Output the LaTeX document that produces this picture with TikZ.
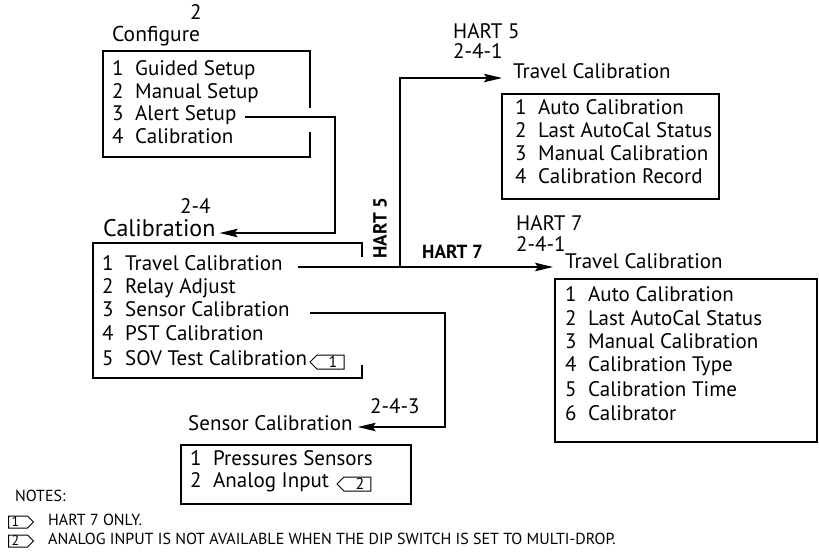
\documentclass[tikz,border=0pt]{standalone}
\usepackage{fontspec}
\setmainfont{PT Sans}
\newfontfamily\notefont{PT Sans}
\usetikzlibrary{arrows.meta,shapes.symbols,calc}
\newcommand\itm[2]{\makebox[23pt][l]{#1}#2}
\begin{document}
\begin{tikzpicture}[x=1pt,y=-1pt,
  txt/.style={anchor=west,inner sep=0pt,text height=0.7em,text depth=0pt,font=\fontsize{21}{24}\selectfont},
  bigtxt/.style={txt,font=\fontsize{24}{27}\selectfont},
  boldtxt/.style={txt,font=\fontsize{19}{22}\selectfont\bfseries},
  notetxt/.style={txt,font=\notefont\fontsize{16}{18}\selectfont},
  box/.style={line width=1.25pt},
  conn/.style={line width=1.25pt},
  arr/.style={conn,-{Stealth[length=18pt,width=8.5pt,inset=3pt]}},
  flagw/.style={draw,line width=1pt,signal,signal to=west,inner sep=0pt,minimum height=14pt,minimum width=34pt,font=\fontsize{16}{16}\selectfont,anchor=west},
  flage/.style={draw,line width=1pt,signal,signal to=east,inner sep=0pt,minimum height=12pt,minimum width=25pt,font=\fontsize{14}{14}\selectfont,anchor=west},
]
\useasboundingbox (0,0) rectangle (819,555);

% Configure
\node[txt] (cfgnum) at (190,16) {2};
\node[txt,font=\fontsize{21.5}{24}\selectfont] (cfgtitle) at (112,38) {Configure};
\draw[box] (310,108) -- (310,51) -- (103,51) -- (103,157) -- (310,157) -- (310,132);
\node[txt] (cfg1) at (112,72) {\itm{1}{Guided Setup}};
\node[txt] (cfg2) at (112,95) {\itm{2}{Manual Setup}};
\node[txt] (cfg3) at (112,117) {\itm{3}{Alert Setup}};
\node[txt] (cfg4) at (112,140) {\itm{4}{Calibration}};

% Calibration
\node[txt] (calnum) at (180,210) {2-4};
\node[bigtxt] (caltitle) at (103,233) {Calibration};
\draw[box] (362,257) -- (362,243) -- (93,243) -- (93,378) -- (362,378) -- (362,365);
\node[txt] (cal1) at (102,267) {\itm{1}{Travel Calibration}};
\node[txt] (cal2) at (102,290) {\itm{2}{Relay Adjust}};
\node[txt] (cal3) at (102,313) {\itm{3}{Sensor Calibration}};
\node[txt] (cal4) at (102,337) {\itm{4}{PST Calibration}};
\node[txt] (cal5) at (102,362) {\itm{5}{SOV Test Calibration}};
\node[flagw] (flag1) at ([xshift=2pt]cal5.east) {\hspace*{5pt}1};

% HART 5 Travel Calibration
\node[txt] (h5hart) at (453,35) {HART 5};
\node[txt] (h5num) at (453,55) {2-4-1};
\node[txt] (h5title) at (513,75) {Travel Calibration};
\draw[box] (502,94) rectangle (719,199);
\node[txt] (h51) at (515,111) {\itm{1}{Auto Calibration}};
\node[txt] (h52) at (515,134) {\itm{2}{Last AutoCal Status}};
\node[txt] (h53) at (515,157) {\itm{3}{Manual Calibration}};
\node[txt] (h54) at (515,180) {\itm{4}{Calibration Record}};

% HART 7 Travel Calibration
\node[txt] (h7hart) at (516,227) {HART 7};
\node[txt] (h7num) at (516,248) {2-4-1};
\node[txt] (h7title) at (565,265) {Travel Calibration};
\draw[box] (555,279) rectangle (817,442);
\node[txt] (h71) at (565,298) {\itm{1}{Auto Calibration}};
\node[txt] (h72) at (565,322) {\itm{2}{Last AutoCal Status}};
\node[txt] (h73) at (565,345) {\itm{3}{Manual Calibration}};
\node[txt] (h74) at (565,368) {\itm{4}{Calibration Type}};
\node[txt] (h75) at (565,393) {\itm{5}{Calibration Time}};
\node[txt] (h76) at (565,417) {\itm{6}{Calibrator}};

% Sensor Calibration
\node[txt] (sensnum) at (370,410) {2-4-3};
\node[txt] (senstitle) at (188,427) {Sensor Calibration};
\draw[box] (181,445) rectangle (411,504);
\node[txt] (sens1) at (190,462) {\itm{1}{Pressures Sensors}};
\node[txt] (sens2) at (190,484) {\itm{2}{Analog Input}};
\node[flagw] (flag2) at ([xshift=7pt]sens2.east) {\hspace*{5pt}2};

% branch labels
\node[boldtxt,rotate=90,anchor=center] (lblh5) at (383,228) {HART 5};
\node[boldtxt] (lblh7) at (422,255) {HART 7};

% connectors
\coordinate (cfgturn) at (335,233);
\draw[arr] ([xshift=8pt]cfg3.east) -| (cfgturn) -- ([xshift=4pt]caltitle.east);
\coordinate (branch) at (400,267);
\coordinate (h7tip) at (553,267);
\coordinate (h5tip) at (502,78);
\draw[arr] ([xshift=15pt]cal1.east) -- (h7tip);
\draw[arr] (branch) |- (h5tip);
\coordinate (sensturn) at (445,427);
\draw[arr] ([xshift=20pt]cal3.east) -| (sensturn) -- ([xshift=5pt]senstitle.east);

% notes
\node[notetxt] (notes) at (15,498) {NOTES:};
\node[flage] (nflag1) at (8,522) {1\hspace*{5pt}};
\node[notetxt] (note1) at (48,522) {HART 7 ONLY.};
\node[flage] (nflag2) at (8,541) {2\hspace*{5pt}};
\node[notetxt] (note2) at (48,541) {ANALOG INPUT IS NOT AVAILABLE WHEN THE DIP SWITCH IS SET TO MULTI-DROP.};
\end{tikzpicture}
\end{document}
